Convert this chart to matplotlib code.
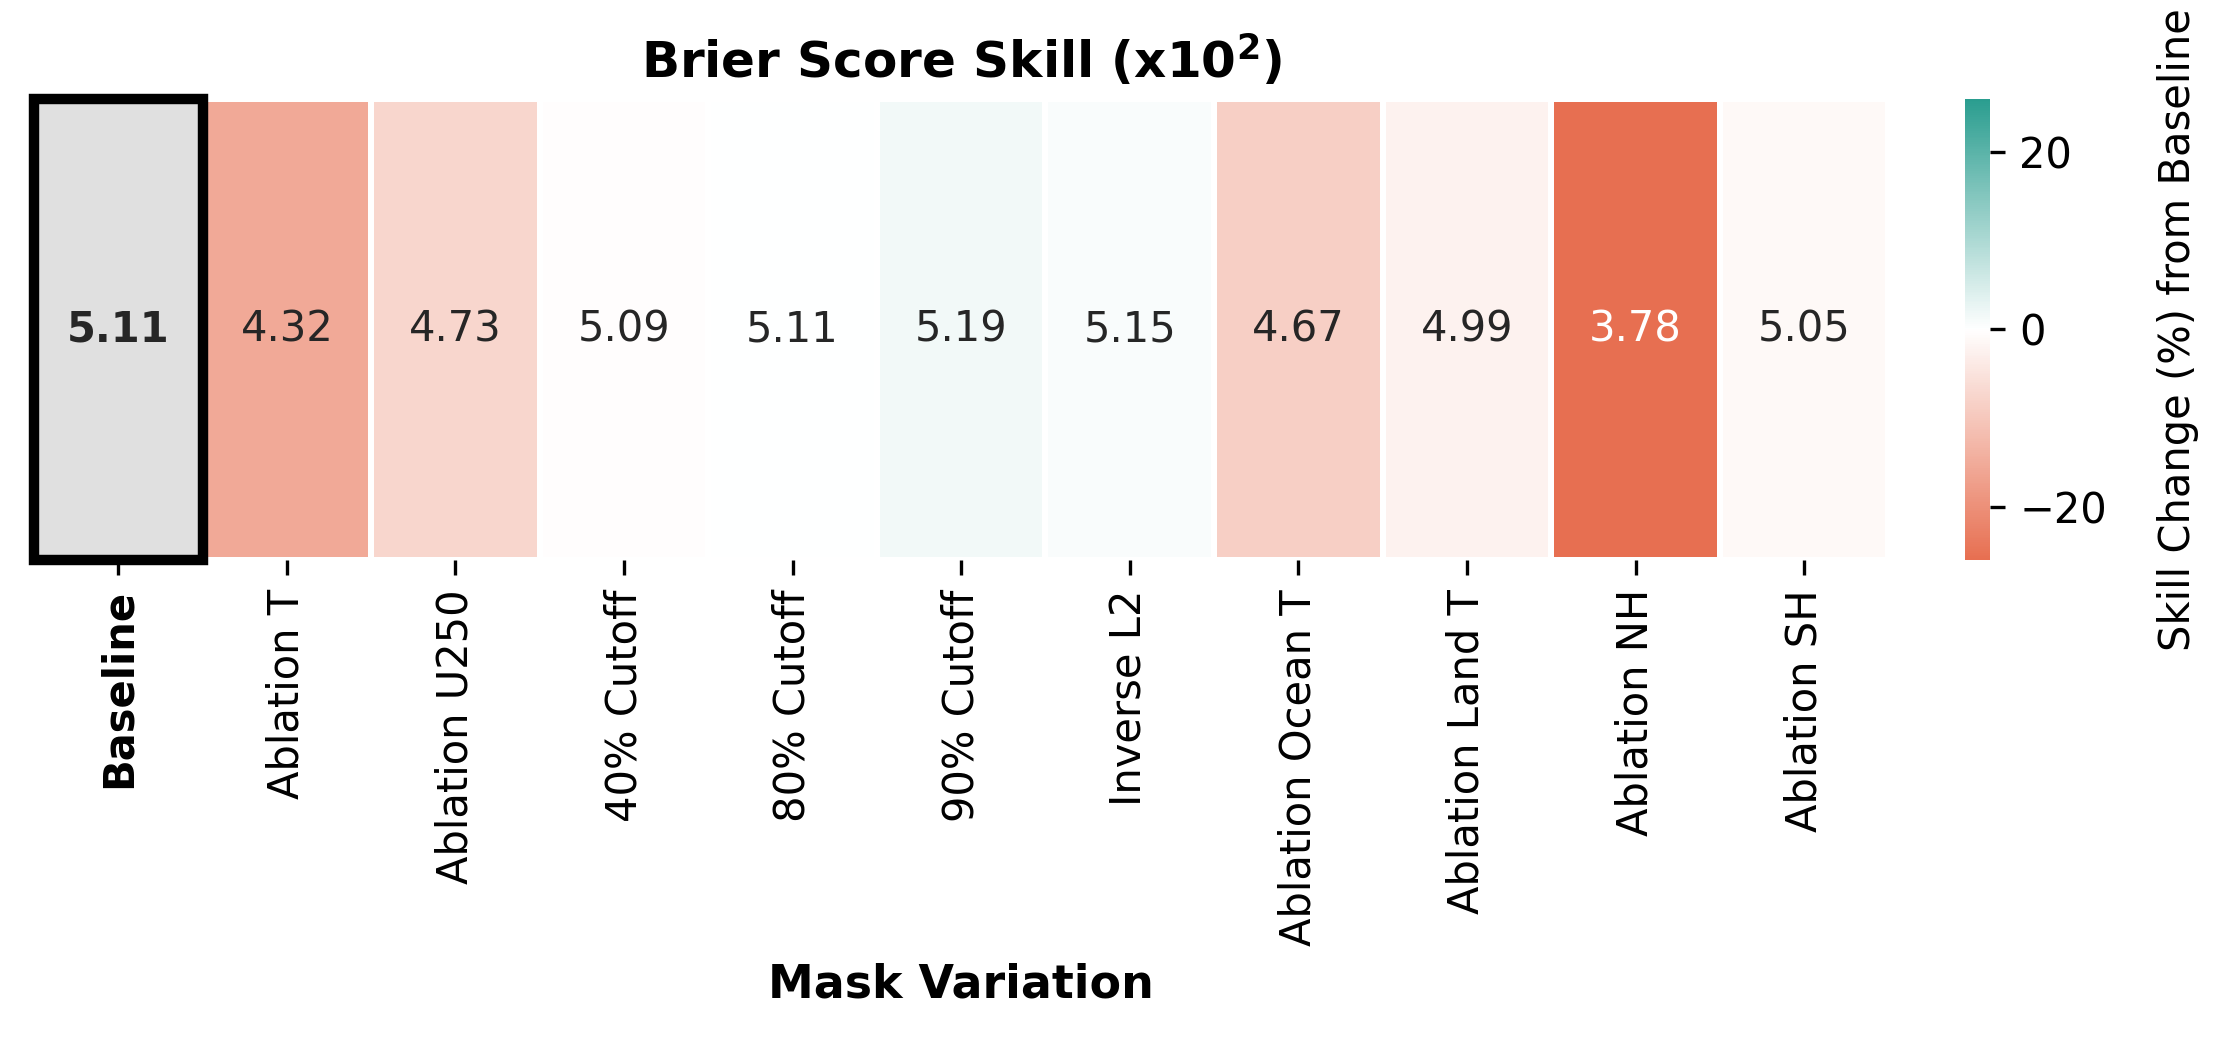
import numpy as np
import matplotlib
matplotlib.use("Agg")
import matplotlib.pyplot as plt
from matplotlib.colors import LinearSegmentedColormap
from matplotlib.patches import Rectangle
import seaborn as sns

variations = ["Baseline", "Ablation T", "Ablation U250", "40% Cutoff", "80% Cutoff",
              "90% Cutoff", "Inverse L2", "Ablation Ocean T", "Ablation Land T",
              "Ablation NH", "Ablation SH"]
brier_skill = [5.11, 4.32, 4.73, 5.09, 5.11, 5.19, 5.15, 4.67, 4.99, 3.78, 5.05]

base = brier_skill[0]
vals = np.array(brier_skill)
pct = (vals - base) / base * 100
lim = np.abs(pct).max()

cmap = LinearSegmentedColormap.from_list("skill", ["#e76f51", "white", "#2a9d8f"])

fig = plt.figure(figsize=(2233 / 300, 1040 / 300), dpi=300)
ax = fig.add_axes([0.0152, 0.4615, 0.8305, 0.4435])
cax = fig.add_axes([0.880, 0.4615, 0.0112, 0.4435])

mask = np.zeros((1, len(vals)), dtype=bool)
mask[0, 0] = True
annot = np.array([[f"{v:.2f}" for v in vals]])

sns.heatmap(pct.reshape(1, -1), ax=ax, cbar_ax=cax, cmap=cmap, vmin=-lim, vmax=lim,
            center=0, mask=mask, annot=annot, fmt="", annot_kws={"fontsize": 10},
            linewidths=1, linecolor="white", xticklabels=variations, yticklabels=False)

# baseline cell drawn separately
ax.add_patch(Rectangle((0, 0), 1, 1, facecolor="#e0e0e0", edgecolor="#aaaaaa", lw=0.5, zorder=2))
ax.add_patch(Rectangle((0, 0), 1, 1, fill=False, edgecolor="black", lw=2.5, zorder=3, clip_on=False))
ax.text(0.5, 0.5, f"{base:.2f}", ha="center", va="center", fontsize=10,
        fontweight="bold", color="#262626", zorder=4)

ax.set_xticklabels(variations, rotation=90, fontsize=10)
ax.get_xticklabels()[0].set_fontweight("bold")
ax.tick_params(axis="x", length=3.5, width=0.8)
ax.set_xlabel("Mask Variation", fontsize=11, fontweight="bold")
ax.set_title("Brier Score Skill (x10$^\\mathbf{2}$)", fontsize=12, fontweight="bold", pad=5)

cax.tick_params(labelsize=10, length=3.5, width=0.8)
cax.set_ylabel("Skill Change (%) from Baseline", fontsize=10, labelpad=12)

fig.savefig("out.png", dpi=300)
